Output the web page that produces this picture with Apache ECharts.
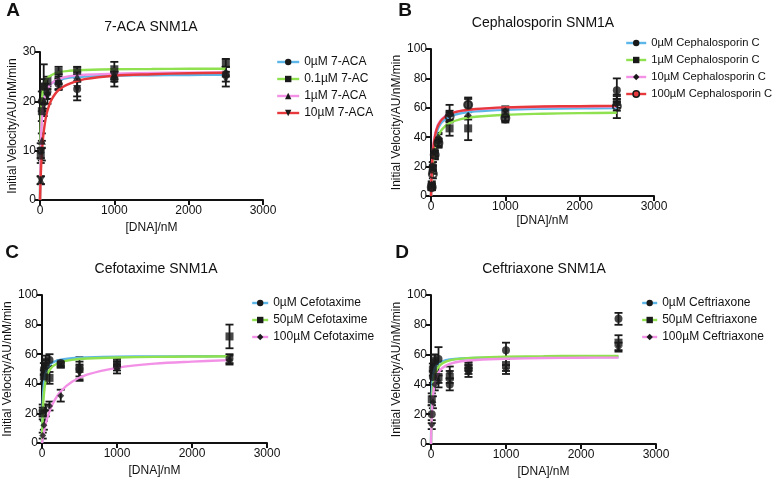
<!DOCTYPE html>
<html>
<head>
<meta charset="utf-8">
<script src="https://cdn.jsdelivr.net/npm/echarts@6/dist/echarts.min.js"></script>
<style>html,body{margin:0;padding:0;background:#fff}#c{width:784px;height:484px}</style>
</head>
<body>
<div id="c"></div>
<script>
// ---------- DATA ----------
const dnaX = [10, 25, 50, 100, 250, 500, 1000, 2500];
const fitX = [0, 5, 10, 20, 35, 50, 75, 100, 150, 250, 400, 600, 1000, 1500, 2000, 2500];
const xTicks = [0, 1000, 2000, 3000];

// Panel A: 7-ACA
const aNames = ['0µM 7-ACA', '0.1µM 7-AC', '1µM 7-ACA', '10µM 7-ACA'];
const aMean0 = [10, 20, 23, 22, 23.5, 22.5, 24.5, 25.5];
const aErr0 = [1.5, 2, 4.5, 1.5, 1.2, 1.5, 1.5, 1.5];
const aMean1 = [9, 18, 23, 24, 26, 26.2, 26.5, 27.8];
const aErr1 = [1.5, 2, 1.5, 1, 1, 0.8, 1.5, 0.8];
const aMean2 = [4, 12, 20, 22, 24.5, 25, 25.5, 26];
const aErr2 = [0.8, 1.5, 2, 1.5, 1, 1, 1, 1];
const aMean3 = [4, 10, 19, 21, 23.5, 22.5, 25, 24.5];
const aErr3 = [0.8, 2, 2, 1.5, 1, 2.3, 1, 1.5];
const aFit0 = [0, 7.5, 11.6, 15.9, 19.0, 20.6, 22.0, 22.8, 23.6, 24.3, 24.8, 25.0, 25.2, 25.3, 25.35, 25.4];
const aFit1 = [0, 10.3, 14.8, 19.1, 21.7, 23.0, 24.1, 24.7, 25.3, 25.9, 26.2, 26.35, 26.5, 26.55, 26.6, 26.6];
const aFit2 = [0, 6.5, 10.4, 14.9, 18.2, 20.0, 21.7, 22.6, 23.6, 24.5, 25.1, 25.4, 25.6, 25.75, 25.8, 25.85];
const aFit3 = [0, 2.6, 4.8, 8.1, 11.5, 13.8, 16.4, 18.1, 20.2, 22.3, 23.6, 24.5, 25.2, 25.5, 25.7, 25.8];
const aYTicks = [0, 10, 20, 30];

// Panel B: Cephalosporin C
const bNames = ['0µM Cephalosporin C', '1µM Cephalosporin C', '10µM Cephalosporin C', '100µM Cephalosporin C'];
const bMean0 = [7, 20, 30, 38, 56, 62, 52, 72];
const bErr0 = [2, 3, 3, 4, 6, 5, 2, 8];
const bMean1 = [6, 18, 28, 36, 46, 46, 57, 64];
const bErr1 = [2, 3, 3, 3, 5, 8, 3, 4];
const bMean2 = [8, 20, 30, 40, 55, 55, 58, 62];
const bErr2 = [2, 3, 3, 3, 3, 3, 3, 4];
const bMean3 = [6, 15, 28, 36, 54, 62, 53, 61];
const bErr3 = [2, 3, 3, 3, 3, 4, 2, 8];
const bFit0 = [0, 8.6, 15.1, 24.2, 32.6, 37.8, 43.2, 46.5, 50.4, 54.0, 56.3, 57.6, 58.7, 59.3, 59.6, 59.8];
const bFit1 = [0, 6.4, 11.5, 19.2, 26.8, 31.9, 37.5, 41.1, 45.4, 49.6, 52.3, 53.9, 55.3, 56.0, 56.4, 56.6];
const bFit2 = [0, 10.3, 17.6, 27.3, 35.9, 41.0, 46.1, 49.2, 52.7, 55.9, 57.9, 59.0, 60.0, 60.5, 60.7, 60.9];
const bFit3 = [0, 9.4, 16.3, 25.8, 34.4, 39.7, 45.1, 48.4, 52.2, 55.8, 57.9, 59.2, 60.3, 60.9, 61.1, 61.3];
const bYTicks = [0, 20, 40, 60, 80, 100];

// Panel C: Cefotaxime
const cNames = ['0µM Cefotaxime', '50µM Cefotaxime', '100µM Cefotaxime'];
const cMean0 = [22, 50, 52, 56, 54, 50, 52, 57];
const cErr0 = [4, 4, 4, 4, 2, 8, 3, 3];
const cMean1 = [20, 45, 55, 44, 53, 50, 54, 72];
const cErr1 = [4, 4, 4, 4, 2, 5, 3, 8];
const cMean2 = [5, 12, 22, 25, 32, 48, 50, 56];
const cErr2 = [2, 3, 4, 3, 4, 5, 3, 3];
const cFit0 = [0, 17.4, 26.8, 36.9, 43.9, 47.6, 50.9, 52.7, 54.6, 56.3, 57.3, 57.8, 58.3, 58.5, 58.6, 58.7];
const cFit1 = [0, 11.8, 19.7, 29.5, 37.5, 42.1, 46.6, 49.2, 52.1, 54.6, 56.2, 57.1, 57.8, 58.2, 58.4, 58.6];
const cFit2 = [0, 1.6, 3.2, 6.0, 9.8, 13.0, 17.6, 21.4, 27.3, 34.9, 41.4, 46.2, 50.8, 53.6, 55.0, 56.0];
const cYTicks = [0, 20, 40, 60, 80, 100];

// Panel D: Ceftriaxone
const dNames = ['0µM Ceftriaxone', '50µM Ceftriaxone', '100µM Ceftriaxone'];
const dMean0 = [20, 45, 55, 57, 40, 50, 63, 84];
const dErr0 = [6, 4, 5, 8, 4, 3, 5, 4];
const dMean1 = [30, 50, 56, 45, 45, 52, 53, 68];
const dErr1 = [4, 4, 4, 4, 4, 3, 4, 5];
const dMean2 = [13, 28, 40, 42, 48, 48, 50, 65];
const dErr2 = [3, 4, 4, 4, 4, 3, 3, 3];
const dFit0 = [0, 22.5, 32.5, 41.8, 47.6, 50.4, 52.9, 54.2, 55.5, 56.7, 57.4, 57.7, 58.0, 58.2, 58.3, 58.3];
const dFit1 = [0, 14.9, 23.8, 34.0, 41.7, 45.8, 49.6, 51.7, 54.1, 56.1, 57.3, 58.0, 58.6, 58.9, 59.1, 59.1];
const dFit2 = [0, 10.8, 18.3, 27.9, 35.9, 40.6, 45.2, 47.9, 51.0, 53.8, 55.5, 56.4, 57.2, 57.7, 57.9, 58.0];
const dYTicks = [0, 20, 40, 60, 80, 100];

const titles = ['7-ACA SNM1A', 'Cephalosporin SNM1A', 'Cefotaxime SNM1A', 'Ceftriaxone SNM1A'];
const letters = ['A', 'B', 'C', 'D'];
const xName = '[DNA]/nM';
const yName = 'Initial Velocity/AU/nM/min';

// ---------- STYLE / LAYOUT ----------
const FONT = '"Liberation Sans", Arial, Helvetica, sans-serif';
const BLUE = '#5cb6e8', GREEN = '#8fe14f', PINK = '#f291e6', RED = '#e7383c';

const panels = [
  { names: aNames, means: [aMean0, aMean1, aMean2, aMean3], errs: [aErr0, aErr1, aErr2, aErr3],
    fits: [aFit0, aFit1, aFit2, aFit3], colors: [BLUE, GREEN, PINK, RED], yTicks: aYTicks,
    symbols: [['circle', 0], ['rect', 0], ['triangle', 0], ['triangle', 180]], hollow: [],
    grid: { left: 40, top: 52, width: 223, height: 148 }, yGap: 21, xGap: 22,
    legend: { left: 276, top: 55, itemWidth: 22, fontSize: 12 }, title: [151, 27], letter: [13, 11] },
  { names: bNames, means: [bMean0, bMean1, bMean2, bMean3], errs: [bErr0, bErr1, bErr2, bErr3],
    fits: [bFit0, bFit1, bFit2, bFit3], colors: [BLUE, GREEN, PINK, RED], yTicks: bYTicks,
    symbols: [['circle', 0], ['rect', 0], ['diamond', 0], ['circle', 0]], hollow: [3],
    grid: { left: 431, top: 49, width: 223, height: 147 }, yGap: 24, xGap: 19,
    legend: { left: 625, top: 36, itemWidth: 20, fontSize: 11.2 }, title: [543, 23], letter: [405, 11] },
  { names: cNames, means: [cMean0, cMean1, cMean2], errs: [cErr0, cErr1, cErr2],
    fits: [cFit0, cFit1, cFit2], colors: [BLUE, GREEN, PINK], yTicks: cYTicks,
    symbols: [['circle', 0], ['rect', 0], ['diamond', 0]], hollow: [],
    grid: { left: 42, top: 295, width: 225, height: 148 }, yGap: 25, xGap: 22,
    legend: { left: 251, top: 296, itemWidth: 16, fontSize: 12 }, title: [156, 269], letter: [12, 253] },
  { names: dNames, means: [dMean0, dMean1, dMean2], errs: [dErr0, dErr1, dErr2],
    fits: [dFit0, dFit1, dFit2], colors: [BLUE, GREEN, PINK], yTicks: dYTicks,
    symbols: [['circle', 0], ['rect', 0], ['diamond', 0]], hollow: [],
    grid: { left: 431, top: 295, width: 225, height: 149 }, yGap: 24, xGap: 22,
    legend: { left: 641, top: 296, itemWidth: 15, fontSize: 12 }, title: [544, 269], letter: [402, 253] }
];

function errRender(params, api) {
  const x = api.value(0), lo = api.value(1), hi = api.value(2);
  const p1 = api.coord([x, lo]), p2 = api.coord([x, hi]);
  const w = 4, st = { stroke: '#1a1a1a', lineWidth: 1.8 };
  return { type: 'group', children: [
    { type: 'line', shape: { x1: p1[0], y1: p1[1], x2: p2[0], y2: p2[1] }, style: st },
    { type: 'line', shape: { x1: p1[0] - w, y1: p1[1], x2: p1[0] + w, y2: p1[1] }, style: st },
    { type: 'line', shape: { x1: p2[0] - w, y1: p2[1], x2: p2[0] + w, y2: p2[1] }, style: st }
  ]};
}

const option = { animation: false, backgroundColor: '#fff', grid: [], xAxis: [], yAxis: [], series: [], legend: [], graphic: [] };

panels.forEach((p, i) => {
  option.grid.push(Object.assign({ containLabel: false }, p.grid));
  const axisCommon = {
    axisLine: { show: true, lineStyle: { color: '#111', width: 2 } },
    axisTick: { show: true, length: 5, lineStyle: { color: '#111', width: 2 } },
    axisLabel: { color: '#111', fontSize: 12, fontFamily: FONT, formatter: v => String(v) },
    splitLine: { show: false },
    nameLocation: 'middle',
    nameTextStyle: { color: '#111', fontSize: 12, fontFamily: FONT }
  };
  option.xAxis.push(Object.assign({}, axisCommon, {
    gridIndex: i, type: 'value', min: xTicks[0], max: xTicks[xTicks.length - 1],
    interval: xTicks[1] - xTicks[0], name: xName, nameGap: p.xGap,
    axisLabel: Object.assign({}, axisCommon.axisLabel, { margin: 5 })
  }));
  option.yAxis.push(Object.assign({}, axisCommon, {
    gridIndex: i, type: 'value', min: p.yTicks[0], max: p.yTicks[p.yTicks.length - 1],
    interval: p.yTicks[1] - p.yTicks[0], name: yName, nameGap: p.yGap,
    axisLabel: Object.assign({}, axisCommon.axisLabel, { margin: 4 })
  }));

  // fitted curves first (so legend uses their icon)
  p.names.forEach((nm, k) => {
    option.series.push({
      type: 'line', name: nm, xAxisIndex: i, yAxisIndex: i,
      data: fitX.map((x, j) => [x, p.fits[k][j]]),
      smooth: 0.35, showSymbol: false, symbol: p.symbols[k][0], symbolRotate: p.symbols[k][1],
      lineStyle: { color: p.colors[k], width: 2.4 }, itemStyle: { color: p.colors[k] }, z: 3
    });
  });
  p.names.forEach((nm, k) => {
    option.series.push({
      type: 'custom', name: nm, xAxisIndex: i, yAxisIndex: i,
      data: dnaX.map((x, j) => [x, p.means[k][j] - p.errs[k][j], p.means[k][j] + p.errs[k][j]]),
      encode: { x: 0, y: [1, 2] }, renderItem: errRender, z: 2
    });
    const hollow = p.hollow.indexOf(k) >= 0;
    option.series.push({
      type: 'scatter', name: nm, xAxisIndex: i, yAxisIndex: i,
      data: dnaX.map((x, j) => [x, p.means[k][j]]),
      symbol: p.symbols[k][0], symbolRotate: p.symbols[k][1],
      symbolSize: p.symbols[k][0] === 'diamond' ? 7 : 8,
      itemStyle: hollow ? { color: 'rgba(0,0,0,0)', borderColor: '#1a1a1a', borderWidth: 2 } : { color: '#1a1a1a' },
      z: 4
    });
  });

  option.legend.push({
    orient: 'vertical', left: p.legend.left, top: p.legend.top, padding: 0,
    itemWidth: p.legend.itemWidth, itemHeight: 8, itemGap: 3, selectedMode: false,
    textStyle: { color: '#111', fontSize: p.legend.fontSize, fontFamily: FONT, lineHeight: 14 },
    data: p.names.map((nm, k) => ({
      name: nm,
      itemStyle: p.hollow.indexOf(k) >= 0 ? { color: '#e7383c', borderColor: '#1a1a1a', borderWidth: 1.5 } : { color: '#1a1a1a' },
      lineStyle: { color: p.colors[k], width: 2.4 }
    }))
  });

  option.graphic.push({
    type: 'text', x: p.title[0], y: p.title[1],
    style: { text: titles[i], fill: '#111', font: '14px ' + FONT, textAlign: 'center', textVerticalAlign: 'middle' }
  });
  option.graphic.push({
    type: 'text', x: p.letter[0], y: p.letter[1],
    style: { text: letters[i], fill: '#111', font: 'bold 19px ' + FONT, textAlign: 'center', textVerticalAlign: 'middle' }
  });
});

const chart = echarts.init(document.getElementById('c'), null, { renderer: 'canvas' });
chart.setOption(option);
</script>
</body>
</html>
